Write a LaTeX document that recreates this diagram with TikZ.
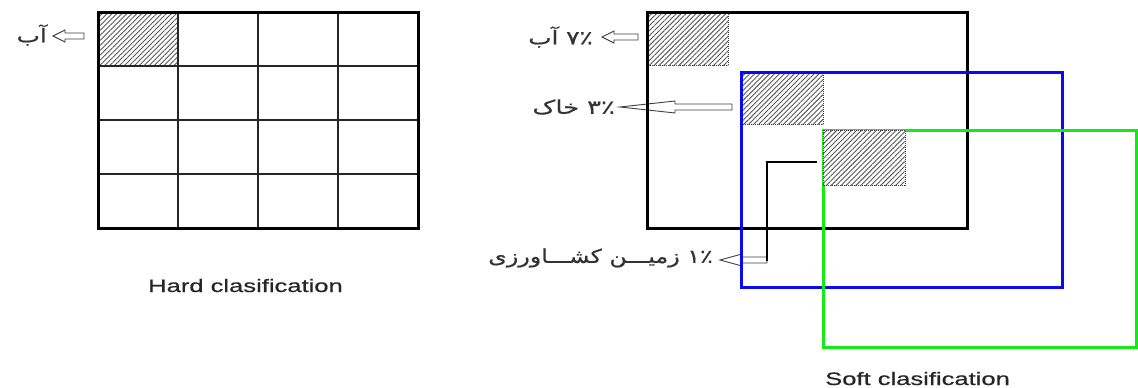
\documentclass[tikz,border=0pt]{standalone}
\usepackage{fontspec}
\usepackage{graphicx}
\setmainfont{Liberation Sans}
\newfontfamily\enfont[FakeBold=0.5]{Liberation Sans}
\newfontfamily\arabicfont[Script=Arabic,FakeBold=0.6]{DejaVu Sans}
\TeXXeTstate=1
\usetikzlibrary{patterns.meta}
\definecolor{pblue}{RGB}{10,10,240}
\definecolor{pgreen}{RGB}{20,235,20}
% hollow block arrow pointing left: #1 tip, #2 length, #3 head length, #4 head half-width, #5 shaft half-width
\newcommand\hollowarrow[5]{%
  \draw[hollow] (#1) -- ++(#3,-#4) -- ++(0,#4-#5) -- ++(#2-#3,0) -- ++(0,2*#5)
     -- ++(-#2+#3,0) -- ++(0,#4-#5) -- cycle;}
\begin{document}
\begin{tikzpicture}[x=1pt,y=-1pt,
  frame/.style={line width=3pt},
  gridline/.style={line width=1.4pt, draw=black!85},
  hatchfill/.style={pattern={Lines[angle=45,distance=3.5pt,line width=0.9pt]}, pattern color=black!65},
  hatchedge/.style={draw=black!75, dash pattern=on 1pt off 1pt, line width=0.8pt},
  hollow/.style={draw=black!75, fill=white, line width=0.9pt, line join=miter},
  fa/.style={font=\arabicfont\fontsize{19}{22}\selectfont, text=black!80, inner sep=0pt},
  en/.style={font=\enfont\fontsize{18}{20}\selectfont, text=black!85, inner sep=0pt}
]
\useasboundingbox[fill=white] (0,0) rectangle (1138,388);

% ---------- Hard classification ----------
\fill[hatchfill] (98,12) rectangle (178,66);
\draw[hatchedge] (98,12) rectangle (178,66);
\foreach \x in {178,258,338} \draw[gridline] (\x,12) -- (\x,228);
\foreach \y in {66,120,174} \draw[gridline] (98,\y) -- (418,\y);
\draw[frame] (98,12) rectangle (418,228);

\coordinate (a1) at (53,36);
\hollowarrow{a1}{31}{12}{6}{3}
\node[fa, anchor=east] (t1) at (47,35) {\scalebox{1.3}[1]{\beginR آب\endR}};

\node[en, anchor=base west] (hard) at (148,292) {\scalebox{1.42}[1]{Hard clasification}};

% ---------- Soft classification ----------
\coordinate (a2) at (602,37);
\hollowarrow{a2}{36}{12}{6}{3}
\node[fa, anchor=east] (t2) at (593,37) {\scalebox{1.3}[1]{\beginR ۷٪ آب\endR}};

\coordinate (a3) at (620,107);
\hollowarrow{a3}{112}{55}{6}{3}
\node[fa, anchor=east] (t3) at (615,107) {\scalebox{1.35}[1]{\beginR ۳٪ خاک\endR}};

\coordinate (a4) at (720,260);
\coordinate (a4tail) at (767,261);
\hollowarrow{a4}{47}{22}{6}{3}
\node[fa, anchor=east] (t4) at (713,258) {\scalebox{1.25}[1]{\beginR ۱٪ زمیـــن کشـــاورزی\endR}};

\coordinate (lstart) at (817,162);
\draw[line width=2.6pt] (lstart) -| (a4tail);

\fill[hatchfill] (647,12) rectangle (728,65);
\draw[hatchedge] (647,12) rectangle (728,65);
\draw[frame] (647,12) rectangle (967,228);

\fill[hatchfill] (741,72) rectangle (823,124);
\draw[hatchedge] (741,72) rectangle (823,124);
\draw[frame, pblue] (741,72) rectangle (1062,287);

\draw[frame, pgreen] (823,130) rectangle (1136,347);
\fill[white] (823,130) rectangle (905,185);
\fill[hatchfill] (823,130) rectangle (905,185);
\draw[hatchedge] (823,130) rectangle (905,185);

\node[en, anchor=base west] (soft) at (825,385) {\scalebox{1.42}[1]{Soft clasification}};
\end{tikzpicture}
\end{document}
